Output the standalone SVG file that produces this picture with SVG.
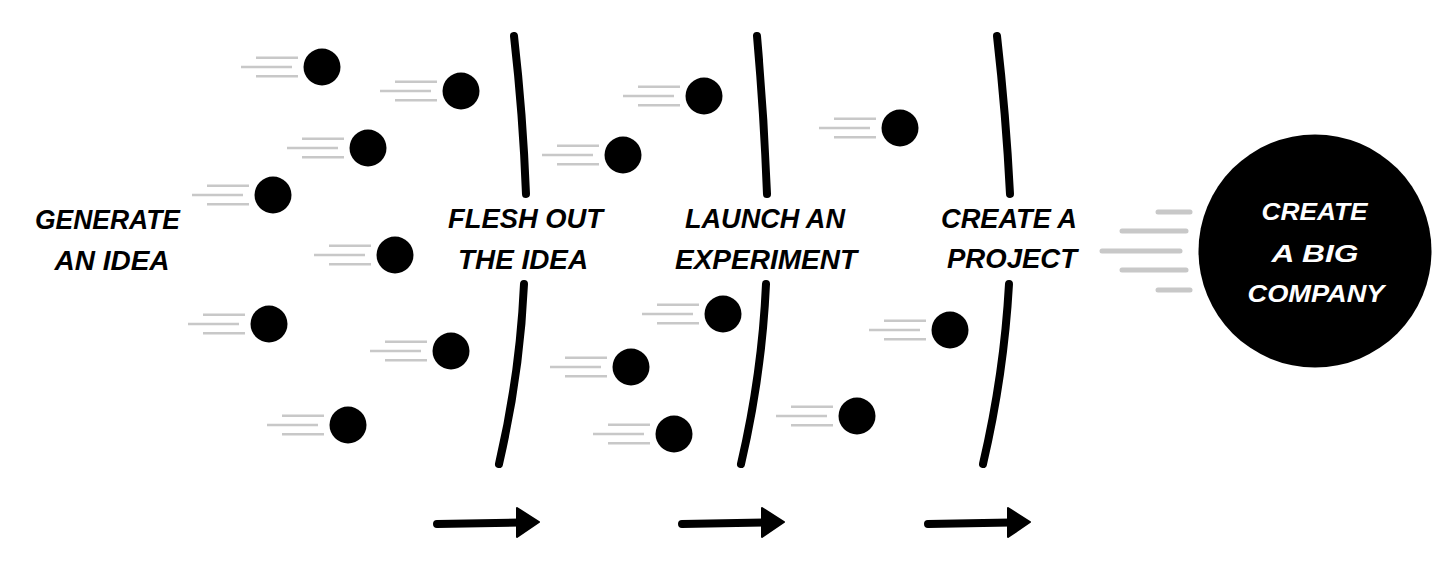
<svg xmlns="http://www.w3.org/2000/svg" width="1456" height="576" viewBox="0 0 1456 576">
<defs>
<style>
.speed{stroke:#c8c8c8;stroke-width:2.6;fill:none}
.ball{fill:#000}
.bar{stroke:#000;stroke-width:8;fill:none;stroke-linecap:round}
.arrowline{stroke:#000;stroke-width:8;stroke-linecap:round;fill:none}
.lbl{font-family:"Liberation Sans",Arial,sans-serif;font-weight:700;font-style:italic;font-size:27px;fill:#000;text-anchor:middle}
.wlbl{font-family:"Liberation Sans",Arial,sans-serif;font-weight:700;font-style:italic;font-size:24px;fill:#fff;text-anchor:middle}
.trail{stroke:#c8c8c8;stroke-width:5;stroke-linecap:round;fill:none}
</style>
<g id="ballshape">
<line class="speed" x1="-66" y1="-9.3" x2="-24" y2="-9.3"/>
<line class="speed" x1="-81" y1="0" x2="-30" y2="0"/>
<line class="speed" x1="-66" y1="9.3" x2="-24" y2="9.3"/>
<circle class="ball" cx="0" cy="0" r="18.5"/>
</g>
</defs>
<rect width="1456" height="576" fill="#fff"/>

<g id="balls">
<use id="ball1" href="#ballshape" x="322" y="67"/>
<use id="ball2" href="#ballshape" x="461" y="91"/>
<use id="ball3" href="#ballshape" x="368" y="148"/>
<use id="ball4" href="#ballshape" x="273" y="195"/>
<use id="ball5" href="#ballshape" x="395" y="255"/>
<use id="ball6" href="#ballshape" x="269" y="324"/>
<use id="ball7" href="#ballshape" x="451" y="351"/>
<use id="ball8" href="#ballshape" x="348" y="425"/>
<use id="ball9" href="#ballshape" x="704" y="96"/>
<use id="ball10" href="#ballshape" x="623" y="155"/>
<use id="ball11" href="#ballshape" x="900" y="128"/>
<use id="ball12" href="#ballshape" x="723" y="314"/>
<use id="ball13" href="#ballshape" x="631" y="367"/>
<use id="ball14" href="#ballshape" x="674" y="434"/>
<use id="ball15" href="#ballshape" x="857" y="416"/>
<use id="ball16" href="#ballshape" x="950" y="330"/>
</g>

<g id="barriers">
<path class="bar" d="M514,36 Q523,115 526,194"/>
<path class="bar" d="M524,284 Q520,374 499,464"/>
<path class="bar" d="M757,36 Q764,115 767,194"/>
<path class="bar" d="M766,284 Q762,374 741,464"/>
<path class="bar" d="M997,36 Q1006,115 1010,194"/>
<path class="bar" d="M1009,284 Q1004,374 983,464"/>
</g>

<g id="connectors">
<line class="arrowline" x1="437" y1="524" x2="520" y2="522.5"/>
<path d="M517,508 L539,522 L517,537 Z" fill="#000" stroke="#000" stroke-width="2" stroke-linejoin="round"/>
<line class="arrowline" x1="682" y1="524" x2="765" y2="522.5"/>
<path d="M762,508 L784,522 L762,537 Z" fill="#000" stroke="#000" stroke-width="2" stroke-linejoin="round"/>
<line class="arrowline" x1="928" y1="524" x2="1011" y2="522.5"/>
<path d="M1008,508 L1030,522 L1008,537 Z" fill="#000" stroke="#000" stroke-width="2" stroke-linejoin="round"/>
</g>

<g id="node-generate">
<text class="lbl" x="107.5" y="229" textLength="145" lengthAdjust="spacingAndGlyphs">GENERATE</text>
<text class="lbl" x="112" y="270" textLength="115" lengthAdjust="spacingAndGlyphs">AN IDEA</text>
</g>
<g id="node-flesh">
<text class="lbl" x="525.5" y="228" textLength="155" lengthAdjust="spacingAndGlyphs">FLESH OUT</text>
<text class="lbl" x="523" y="269" textLength="130" lengthAdjust="spacingAndGlyphs">THE IDEA</text>
</g>
<g id="node-launch">
<text class="lbl" x="765" y="228" textLength="160" lengthAdjust="spacingAndGlyphs">LAUNCH AN</text>
<text class="lbl" x="766" y="269" textLength="182" lengthAdjust="spacingAndGlyphs">EXPERIMENT</text>
</g>
<g id="node-project">
<text class="lbl" x="1009" y="228" textLength="136" lengthAdjust="spacingAndGlyphs">CREATE A</text>
<text class="lbl" x="1012" y="268" textLength="130" lengthAdjust="spacingAndGlyphs">PROJECT</text>
</g>
<g id="node-company">
<line class="trail" x1="1158" y1="212" x2="1190" y2="212"/>
<line class="trail" x1="1122" y1="231" x2="1186" y2="231"/>
<line class="trail" x1="1102" y1="251" x2="1180" y2="251"/>
<line class="trail" x1="1122" y1="270" x2="1186" y2="270"/>
<line class="trail" x1="1158" y1="290" x2="1190" y2="290"/>
<circle cx="1315" cy="251" r="116.5" fill="#000"/>
<text class="wlbl" x="1314.5" y="220" textLength="106" lengthAdjust="spacingAndGlyphs">CREATE</text>
<text class="wlbl" x="1315" y="262" textLength="87" lengthAdjust="spacingAndGlyphs">A BIG</text>
<text class="wlbl" x="1316" y="302" textLength="137" lengthAdjust="spacingAndGlyphs">COMPANY</text>
</g>
</svg>
